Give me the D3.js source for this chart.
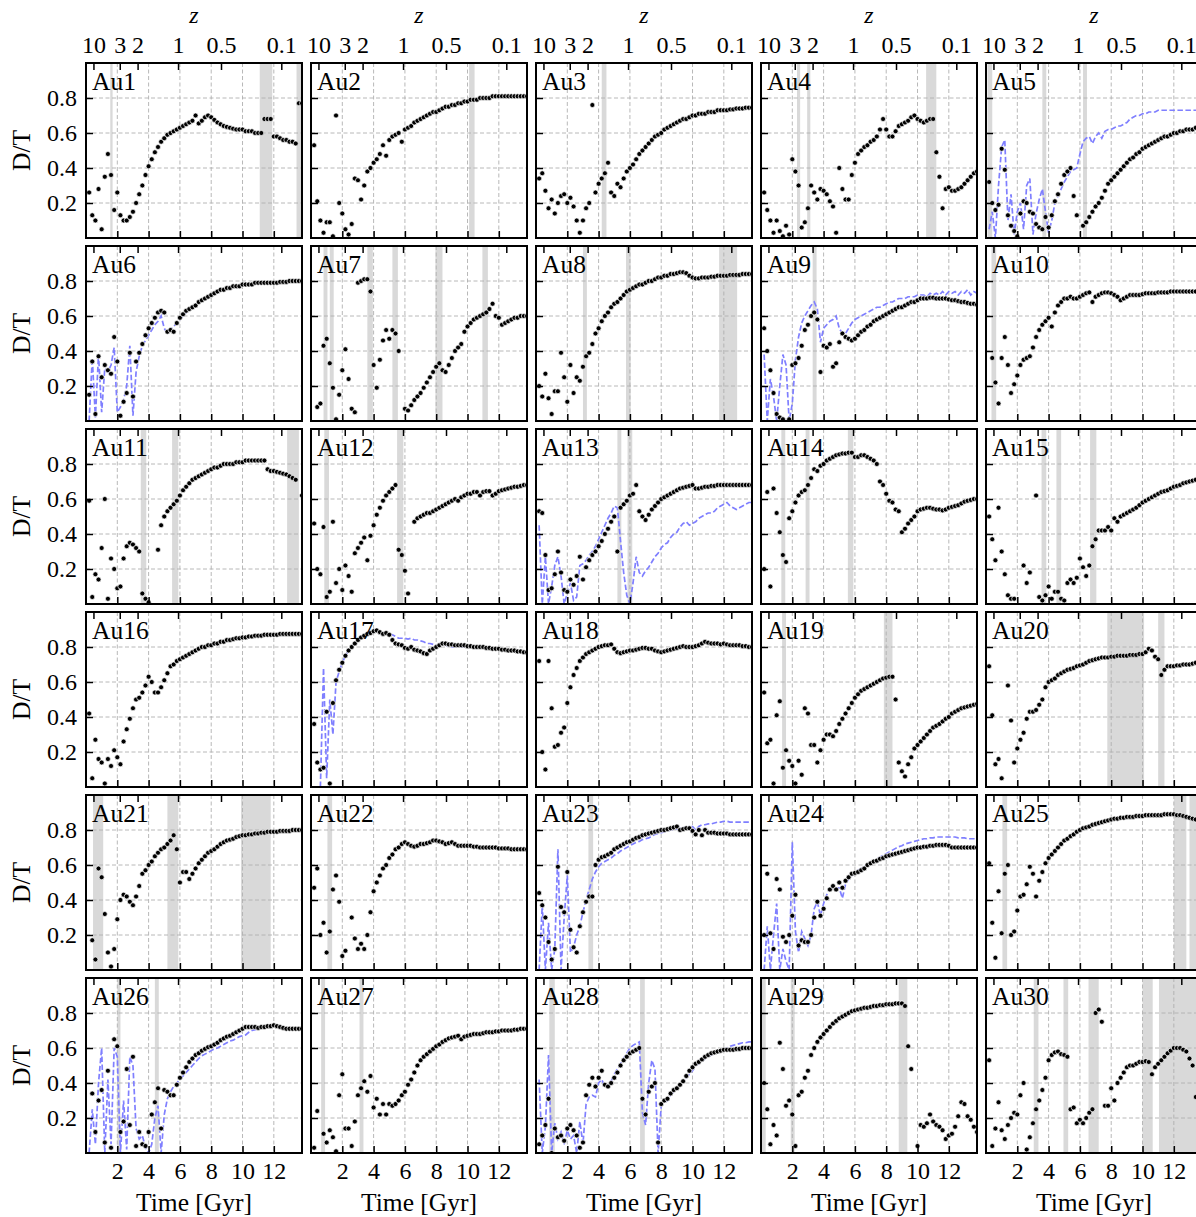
<!DOCTYPE html>
<html><head><meta charset="utf-8">
<script src="https://cdn.jsdelivr.net/npm/d3@7"></script>
<style>
body{margin:0;background:#fff;}
svg text{font-family:"Liberation Serif","DejaVu Serif",serif;fill:#000;}
</style>
</head><body>
<svg id="chart" width="1196" height="1217"></svg>
<script>
const n = null;
// snapshot times [Gyr]
const time = [0.2,0.4,0.6,0.8,1.0,1.2,1.4,1.6,1.8,2.0,2.2,2.4,2.6,2.8,3.0,3.2,3.4,3.6,3.8,4.0,4.2,4.4,4.6,4.8,5.0,5.2,5.4,5.6,5.8,6.0,6.2,6.4,6.6,6.8,7.0,7.2,7.4,7.6,7.8,8.0,8.2,8.4,8.6,8.8,9.0,9.2,9.4,9.6,9.8,10.0,10.2,10.4,10.6,10.8,11.0,11.2,11.4,11.6,11.8,12.0,12.2,12.4,12.6,12.8,13.0,13.2,13.4,13.6,13.8];
const names = ["Au1","Au2","Au3","Au4","Au5","Au6","Au7","Au8","Au9","Au10","Au11","Au12","Au13","Au14","Au15","Au16","Au17","Au18","Au19","Au20","Au21","Au22","Au23","Au24","Au25","Au26","Au27","Au28","Au29","Au30"];
const xTicks = [2,4,6,8,10,12];
const yTicks = [0.2,0.4,0.6,0.8];
const zTicks = [10,3,2,1,0.5,0.1];

// D/T (black points)
const au1 = [.26,.13,.10,.28,.05,.35,.48,.36,.16,.26, .13,.10,.10,.12,.15,.20,.25,.30,.36,.41, .45,.49,.52,.55,.57,.59,.60,.61,.62,.63, .64,.65,.66,.67,.70,.655,.67,.69,.70,.69, .675,.66,.65,.64,.635,.63,.625,.62,.62,.62, .61,.61,.61,.60,.60,.60,.68,.68,.68,.58, .58,.57,.56,.56,.55,.55,.54,.77,.77];
const au2 = [.53,.21,.10,.03,.09,.09,.01,.70,.20,.14, .05,.02,.08,.34,.33,.22,.30,.38,.40,.43, .45,.48,.53,.47,.56,.58,.59,.60,.55,.62, .63,.64,.66,.67,.68,.69,.70,.71,.72,.72, .73,.74,.75,.75,.76,.76,.77,.77,.78,.78, .79,.79,.79,.80,.80,.80,.80,.81,.81,.81, .81,.81,.81,.81,.81,.81,.81,.81,.81];
const au3 = [.34,.37,.27,.17,.22,.14,.20,.24,.25,.20, .23,.18,.10,.03,.10,.17,.20,.76,.26,.31, .34,.37,.43,.26,.24,.31,.29,.34,.38,.40, .42,.45,.48,.50,.52,.54,.56,.58,.59,.60, .62,.63,.64,.65,.66,.67,.68,.68,.69,.70, .70,.71,.71,.71,.72,.72,.72,.73,.73,.73, .73,.735,.735,.74,.74,.74,.745,.745,.745];
const au4 = [.26,.16,.10,.03,.10,.04,.01,.07,.02,.45, .38,.30,.06,.09,.17,.30,.26,.22,.28,.27, .25,.21,.18,.03,.40,.28,.22,.22,.36,.43, .48,.50,.52,.53,.55,.56,.58,.62,.68,.62, .58,.58,.61,.64,.65,.66,.67,.69,.70,.68, .67,.66,.67,.68,.68,.49,.35,.17,.28,.29, .27,.27,.28,.29,.31,.33,.35,.37,.38];
const au5 = [.32,.20,.16,.19,.51,.39,.13,.07,.04,.01, .14,.21,.20,.15,.14,.08,.06,.05,.12,.06, .13,.21,.25,.31,.36,.38,.40,.24,.13,n, .07,.09,.12,.15,.18,.20,.23,.27,.31,.33, .35,.37,.39,.41,.43,.45,.46,.48,.49,.51, .52,.53,.54,.55,.56,.57,.58,.58,.59,.60, .60,.61,.61,.62,.62,.62,.63,.63,.63];
const au6 = [.15,.34,.04,.37,.25,.32,.29,.27,.48,.34, .03,.11,.16,.39,.14,.34,.39,.44,.49,.53, .56,.59,.62,.63,.62,.51,.52,.51,.56,.59, .61,.63,.64,.65,.66,.68,.69,.70,.71,.72, .73,.74,.75,.75,.76,.76,.77,.77,.77,.78, .78,.78,.78,.79,.79,.79,.79,.79,.79,.79, .79,.795,.795,.795,.80,.80,.80,.80,.80];
const au7 = [n,.08,.10,.43,.47,.33,.19,.01,.15,.29, .41,.24,.07,.05,.79,.80,.81,.81,.74,.32, .19,.35,.46,.52,.47,.52,.50,.40,n,.07, .06,.09,.12,.14,.16,.19,.22,.25,.28,.31, .33,.29,.28,.32,.36,.40,.42,.44,.51,.54, .56,.58,.59,.60,.61,.62,.64,.67,.60,.59, .55,.56,.57,.58,.59,.59,.60,.60,.60];
const au8 = [.20,.14,.27,.13,.04,.17,.17,.39,.25,.11, .32,.16,.25,.23,.31,.37,.39,.44,.50,.53, .57,.60,.62,.65,.67,.68,.70,.72,.74,.75, .76,.77,.78,.78,.79,.80,.80,.81,.82,.82, .83,.83,.84,.84,.845,.85,.85,.845,.83,.82, .815,.815,.82,.82,.82,.825,.825,.83,.83,.83, .83,.835,.835,.835,.835,.84,.84,.84,.84];
const au9 = [.53,.40,.29,.16,.04,.02,.01,n,.01,.32, .33,.36,.43,.52,.55,.60,.62,.58,.28,.43, .42,.44,.31,.33,.45,.50,.48,.47,.46,.47, .49,.51,.52,.54,.55,.57,.58,.59,.60,.61, .62,.63,.64,.65,.65,.66,.67,.68,.68,.69, .70,.70,.70,.705,.705,.70,.70,.70,.70,.695, .69,.69,.685,.68,.68,.675,.67,.67,.665];
const au10 = [n,.36,.22,.10,.36,.48,.32,.16,.21,.26, .32,.35,.36,.37,.42,.48,.52,.55,.57,.59, .54,.62,.66,.68,.70,.70,.71,.70,.70,.71, .72,.73,.735,.68,.71,.72,.73,.735,.735,.73, .72,.71,.69,.70,.71,.72,.72,.72,.72,.725, .73,.73,.73,.73,.735,.735,.735,.735,.74,.74, .74,.74,.74,.74,.74,.74,.74,.74,.74];
const au11 = [.59,.04,.17,.14,.32,.60,.03,.26,.20,.09, .10,.26,.33,.35,.34,.32,.30,.06,.03,.01, n,n,.31,.45,.50,.53,.55,.57,.59,.62, .65,.67,.69,.71,.72,.73,.74,.75,.76,.77, .78,.78,.79,.80,.80,.80,.80,.81,.81,.81, .82,.82,.82,.82,.82,.82,.82,.77,.76,.76, .755,.75,.745,.74,.73,.72,.71,n,.62];
const au12 = [.46,.20,.17,.44,.04,.07,.47,.12,.20,.08, .22,.16,.07,.29,.32,.35,.38,.25,.39,.45, .51,.55,.59,.62,.64,.66,.68,.31,.28,.19, .06,n,.47,.49,.50,.51,.52,.52,.53,.54, .55,.56,.57,.58,.59,.60,.59,.61,.62,.63, .63,.64,.64,.62,.64,.645,.645,.62,.63,.645, .65,.655,.66,.665,.67,.67,.675,.68,.68];
const au13 = [.53,.52,.28,.08,.09,.17,.30,.18,.08,.07, .14,.11,.16,.27,.14,.21,.25,.28,.30,.33, .36,.40,.43,.47,.50,.30,.55,.57,.59,.62, .63,.68,.53,.50,.48,.51,.54,.56,.58,.60, .61,.62,.63,.64,.65,.66,.665,.67,.675,.68, .66,.66,.665,.67,.67,.675,.675,.68,.68,.68, .68,.68,.68,.68,.68,.68,.68,.68,.68];
const au14 = [.20,.64,.10,.66,.52,.41,.28,.24,.49,.53, .58,.62,.64,.65,.68,.72,.77,.76,.79,.80, .82,.83,.84,.85,.855,.86,.86,.865,.865,.84, .84,.85,.85,.84,.83,.82,.80,.70,.68,.63, .59,.58,.54,.53,.41,.43,.46,.48,.50,.53, .54,.545,.55,.55,.545,.54,.54,.535,.54,.55, .555,.56,.565,.575,.585,.59,.595,.60,.60];
const au15 = [.50,.37,.25,.55,.30,.17,.05,.03,.03,n, n,.22,.12,.18,n,.62,.04,.02,.05,.10, .03,.07,.07,.03,.02,.12,.14,.12,.15,.26, .21,.16,.22,.33,.37,.42,.42,.42,.44,.42, .49,.47,.50,.51,.52,.53,.54,.55,.565,.58, .59,.60,.61,.62,.63,.64,.645,.65,.66,.67, .675,.68,.69,.695,.70,.705,.71,.715,.72];
const au16 = [.42,.05,.27,.16,.14,.02,.16,.12,.21,.17, .13,.26,.33,.39,.45,.50,.51,.54,.58,.63, .60,.54,.54,.57,.61,.65,.69,.70,.72,.73, .74,.75,.76,.77,.78,.79,.80,.80,.81,.81, .82,.82,.83,.83,.84,.84,.845,.85,.85,.855, .855,.86,.86,.865,.865,.865,.87,.87,.87,.87, .87,.875,.875,.875,.875,.875,.875,.875,.875];
const au17 = [.36,.14,.10,.11,.43,.02,.48,.61,.67,.71, .75,.78,.80,.82,.84,.855,.865,.875,.88,.89, .895,.885,.875,.88,.87,.84,.82,.815,.81,.795, .79,.80,.785,.78,.775,.765,.76,.78,.79,.80, .81,.82,.82,.815,.815,.81,.81,.81,.81,.805, .805,.80,.80,.80,.80,.795,.795,.79,.79,.79, .785,.785,.78,.78,.78,.775,.775,.77,.77];
const au18 = [.72,.20,.10,.72,.45,.23,.24,.31,.34,.48, .57,.64,.68,.72,.74,.76,.77,.78,.79,.80, .805,.81,.81,.815,.79,.77,.765,.77,.775,.78, .78,.785,.79,.795,.795,.79,.79,.78,.775,.77, .775,.78,.785,.79,.795,.80,.805,.80,.80,.80, .805,.81,.82,.83,.825,.82,.82,.82,.815,.82, .815,.81,.81,.81,.81,.805,.805,.80,.80];
const au19 = [.54,.25,.27,.02,.41,.49,.11,.21,.15,.12, .02,.15,.07,.45,.42,.24,.24,.14,.21,.27, .30,.30,.29,.32,.36,.39,.42,.45,.48,.51, .53,.55,.56,.57,.58,.59,.60,.61,.62,.625, .63,.63,.50,.14,.09,.06,.13,.17,.22,.24, .26,.28,.30,.32,.34,.35,.36,.375,.39,.40, .42,.43,.44,.45,.455,.46,.465,.47,.475];
const au20 = [.69,.41,.13,.16,.05,n,.58,.38,.14,.22, .27,.31,.39,.43,.43,.44,.47,.50,.57,.60, .61,.62,.64,.65,.66,.67,.675,.68,.69,.695, .70,.71,.72,.725,.73,.735,.74,.74,.74,.745, .745,.75,.75,.75,.75,.755,.755,.755,.76,.76, .77,.79,.78,.745,.73,.64,.67,.69,.69,.69, .695,.695,.70,.70,.70,.705,.71,.71,.71];
const au21 = [n,.17,.06,.58,.53,.32,.10,.02,.12,.29, .40,.43,.42,.39,.37,.42,.48,.55,.57,.60, .62,.65,.67,.69,.70,.72,.74,.77,.69,.50, .56,.56,.52,.55,.58,.61,.63,.65,.67,.68, .69,.705,.72,.73,.74,.745,.75,.76,.765,.77, .77,.775,.775,.78,.78,.785,.785,.79,.79,.79, .79,.795,.795,.795,.795,.80,.80,.80,.80];
const au22 = [.47,.58,.20,.27,.10,.22,.46,.54,.39,.08, .11,n,.30,.18,.12,.15,.12,.20,.33,.45, .50,.54,.58,.60,.64,.66,.69,.70,.72,.73, .72,.71,.705,.71,.72,.72,.725,.73,.74,.74, .735,.73,.72,.725,.73,.72,.71,.71,.71,.71, .71,.705,.705,.70,.70,.70,.70,.70,.70,.695, .695,.695,.695,.69,.69,.69,.69,.69,.69];
const au23 = [.44,.37,.30,.16,.06,.12,.59,.36,.33,.56, .23,.13,.10,.25,.33,.39,.42,.42,.60,.63, .645,.65,.66,.67,.69,.70,.71,.72,.73,.735, .745,.755,.76,.77,.775,.78,.785,.79,.795,.80, .80,.805,.81,.815,.82,.80,.805,.81,.81,.795, .775,.80,.77,.80,.785,.785,.785,.78,.78,.78, .78,.775,.775,.775,.775,.775,.775,.775,.775];
const au24 = [.20,.55,.21,.12,.52,.46,.19,.16,.20,.31, .43,.14,.17,.16,.16,.20,.30,.39,.31,.35, .41,.46,.48,.46,.50,.47,.51,.53,.55,.555, .56,.57,.58,.60,.61,.62,.625,.635,.64,.65, .655,.66,.665,.67,.675,.68,.685,.69,.695,.70, .70,.705,.705,.71,.71,.715,.715,.715,.715,.71, .70,.70,.70,.70,.70,.70,.70,.70,.70];
const au25 = [.61,.27,.07,.45,.21,.55,.60,.20,.22,.34, .42,.43,.49,.59,.55,.42,.51,.56,.61,.64, .66,.68,.70,.72,.74,.75,.765,.775,.79,.80, .81,.815,.82,.83,.835,.84,.845,.85,.855,.86, .865,.865,.87,.87,.875,.875,.875,.88,.88,.88, .885,.885,.885,.885,.885,.885,.89,.89,.89,.89, .885,.885,.88,.875,.87,.865,.86,.855,.85];
const au26 = [n,.34,.12,.30,.36,.06,.47,.03,.65,.61, .12,.18,.48,.16,.55,.04,.12,.05,.04,.12, .22,.29,.37,.14,.36,.35,.33,.33,.39,.43, .46,.49,.52,.54,.56,.57,.585,.595,.605,.61, .62,.63,.645,.655,.665,.67,.68,.69,.70,.71, .72,.72,.72,.72,.715,.72,.72,.725,.725,.73, .725,.72,.715,.71,.71,.71,.71,.71,.71];
const au27 = [.03,.24,n,.11,.06,.13,.09,.01,.33,.45, .14,.14,.04,.18,.33,.37,.41,.35,.44,.26, .31,.22,.28,.22,.28,.27,.28,.30,.33,.35, .39,.42,.46,.50,.53,.55,.565,.58,.595,.61, .62,.635,.645,.655,.66,.665,.67,.65,.665,.67, .675,.68,.68,.68,.685,.69,.69,.69,.695,.695, .70,.70,.70,.70,.705,.705,.71,.71,.71];
const au28 = [.05,.10,.16,.31,0,.14,.09,.10,.07,.14, .16,.13,.10,.03,.06,.33,.39,.43,.38,.43, .47,.39,.38,.40,.43,.46,.50,.53,.55,.57, .58,.59,.60,.31,.22,.35,.38,.40,.06,.28, .30,.31,.34,.36,.37,.39,.41,.44,.47,.49, .51,.52,.535,.55,.56,.57,.575,.58,.585,.59, .59,.59,.59,.595,.595,.60,.60,.60,.60];
const au29 = [.40,.25,.05,.16,.10,.63,.48,.27,.30,.22, .04,.33,.35,.43,.47,.56,.60,.635,.66,.68, .70,.72,.74,.755,.77,.78,.79,.80,.81,.815, .82,.825,.83,.83,.835,.84,.84,.845,.845,.85, .85,.85,.855,.855,.855,.84,.61,.48,n,.04, .16,.15,.17,.22,.18,.16,.15,.13,.08,.10, .11,.15,.21,.29,.28,.21,.19,.15,.12];
const au30 = [.53,.04,.14,.29,.13,.08,.16,.20,.23,.22, .33,.40,.02,.09,.17,.25,.30,.36,.43,.53, .56,.575,.58,.565,.56,.55,.25,.26,.17,.19, .17,.20,.23,.25,.80,.82,.75,.27,.27,.37, .30,.40,.43,.46,.49,.50,.50,.51,.52,.52, .525,.52,.45,.49,.51,.53,.55,.57,.585,.60, .60,.60,.59,.58,.54,.50,.32,n,n];

// dashed blue series (where present)
const blue5 = [.05,.15,0,.30,.52,.56,.10,.25,.02,.15, .20,.05,.30,.34,.02,.14,.22,.28,.15,.03, .10,.20,.24,.28,.32,.35,.38,.39,.40,.48, .55,.57,.58,.54,.58,.60,.57,.61,.62,.62, .63,.64,.64,.65,.66,.68,.69,.70,.70,.71, .71,.72,.72,.72,.73,.73,.73,.73,.73,.73, .73,.73,.73,.73,.73,.73,.73,.73,.73];
const blue6 = [0,.36,.02,.38,.05,.30,.28,.32,.42,.05, .08,.12,.20,.43,.03,.28,.37,.43,.46,.49, .52,.55,.57,.60,.53,.50,.52,.54,.56,.58, .60,.62,n,n,n,n,n,n,n,n, n,n,n,n,n,n,n,n,n,n, n,n,n,n,n,n,n,n,n,n, n,n,n,n,n,n,n,n,n];
const blue9 = [.38,0,.24,.14,0,.20,.38,.32,0,.10, .35,.48,.56,.60,.63,.66,.68,.64,.45,.53, .55,.57,.58,.60,.53,.50,.50,.53,.56,.58, .59,.60,.61,.62,.63,.64,.65,.65,.66,.67, .68,.68,.69,.70,.70,.70,.71,.71,.71,.72, .72,.72,.71,.73,.72,.73,.72,.74,.72,.74, .73,.74,.72,.74,.73,.75,.72,.74,.73];
const blue13 = [.45,0,.27,0,.10,.22,.27,.16,0,.06, .12,.02,.04,.22,.23,.25,.28,.30,.33,.37, .41,.45,.49,.52,.56,.55,.36,.18,.05,0, .12,.27,.18,.16,.19,.21,.24,.27,.29,.32, .34,.35,.38,.40,.41,.44,.46,.47,.45,.46, .47,.49,.50,.51,.52,.52,.53,.55,.56,.57, .58,.56,.55,.54,.55,.56,.57,.58,.58];
const blue17 = [n,n,0,.68,.05,.50,.30,.60,.66,.71, .75,.78,.80,.82,.84,.855,.865,.875,.88,.89, .895,.89,.88,.885,.875,.87,.86,.85,.85,.85, .845,.85,.84,.84,.835,.83,.82,.82,.815,.81, .81,.81,.81,.805,.80,.80,.80,.80,.80,.80, .80,.80,.795,.795,.795,.79,.79,.79,.785,.785, .78,.78,.78,.775,.775,.77,.77,.765,.765];
const blue23 = [0,.37,0,.27,0,.12,.69,0,.30,.54, .10,.13,.20,.25,.33,.40,.46,.52,.56,.59, .61,.62,.63,.64,.655,.665,.68,.69,.70,.71, .72,.73,.735,.745,.75,.755,.765,.775,.78,.785, .79,.795,.80,.805,.805,.81,.815,.815,.82,.82, .80,.82,.83,.83,.835,.835,.84,.845,.845,.85, .85,.845,.845,.845,.845,.845,.845,.845,.845];
const blue24 = [0,.25,0,.20,.38,0,.12,.05,0,.73, .22,.10,.22,.18,.14,.20,.35,.39,.31,.38, .43,.46,.47,.47,.47,.41,.49,.52,.54,.555, .57,.58,.59,.60,.61,.625,.635,.645,.655,.665, .675,.685,.695,.705,.71,.72,.725,.73,.735,.74, .745,.75,.75,.755,.755,.76,.76,.76,.76,.76, .76,.76,.755,.755,.755,.75,.75,.75,.75];
const blue26 = [0,.25,.05,.40,.60,0,.42,.05,.60,.55, 0,.30,.02,.55,.50,.14,.08,.10,.03,0, .05,.20,.27,0,.22,.31,.35,.38,.40,.42, .44,.46,.48,.50,.52,.54,.555,.565,.575,.585, .595,.60,.61,.62,.63,.64,.645,.655,.665,.67, .675,.69,.70,.705,.71,n,n,n,n,n, n,n,n,n,n,n,n,n,n];
const blue28 = [.42,0,.15,.56,0,.17,.08,.12,.05,.13, .08,.10,0,.18,.05,.28,.32,.33,.32,.40, .42,.38,.38,.41,.45,.48,.51,.54,.57,.60, .615,.625,.635,.23,.16,.40,.53,.48,0,.27, .29,.30,.33,.35,.37,.39,.41,.43,.45,.47, .50,.51,.525,.54,.55,.56,.57,.58,.59,.595, .60,.61,.615,.62,.625,.63,.63,.635,.635];

// grey bands [start, end] in Gyr, one list per halo
const bandList = [
 [[1.55,1.7],[11.1,11.9],[13.45,13.8]],
 [[10.1,10.45]],
 [[4.2,4.5]],
 [[2.3,2.5],[2.95,3.15],[10.55,11.2]],
 [[0.1,0.4],[3.6,3.85],[6.2,6.45]],
 [],
 [[0.8,1.05],[1.2,1.45],[3.6,3.95],[5.2,5.55],[7.95,8.4],[10.95,11.3]],
 [[3.0,3.25],[5.75,6.05],[11.7,12.85]],
 [[3.3,3.55]],
 [[0.35,0.65]],
 [[3.5,3.85],[5.5,5.9],[12.85,13.6]],
 [[0.85,1.15],[5.5,5.9]],
 [[5.2,5.45],[5.85,6.15]],
 [[1.3,1.55],[2.85,3.1],[5.55,5.9]],
 [[3.55,3.85],[4.5,4.8],[6.65,7.05]],
 [],
 [],
 [],
 [[1.35,1.6],[7.85,8.4]],
 [[7.75,10.1],[11.0,11.4]],
 [[0.45,1.1],[5.2,5.9],[9.9,11.8]],
 [[1.05,1.35]],
 [[3.35,3.65]],
 [],
 [[1.05,1.35],[12.0,12.8],[13.0,13.8]],
 [[2.0,2.2],[4.4,4.65]],
 [[0.65,0.9],[3.1,3.35]],
 [[0.85,1.2],[6.65,6.95]],
 [[0.05,0.3],[1.9,2.15],[8.8,9.35]],
 [[3.05,3.35],[4.95,5.25],[6.55,7.2],[10.0,10.65],[11.05,13.8]]
];

const points = [au1,au2,au3,au4,au5,au6,au7,au8,au9,au10,au11,au12,au13,au14,au15,au16,au17,au18,au19,au20,au21,au22,au23,au24,au25,au26,au27,au28,au29,au30];
const dashed = {4:blue5,5:blue6,8:blue9,12:blue13,16:blue17,22:blue23,23:blue24,25:blue26,27:blue28};

// ---------- drawing ----------
const W = 216, H = 175;
const colX = [86,311,536,761,986];
const rowY = [63,246,429,612,795,978];
const FS = 24, FL = 25.5;

const x = d3.scaleLinear().domain([0,13.8]).range([0,W]);
const y = d3.scaleLinear().domain([0,1]).range([H,0]);

// cosmic time at redshift z (flat LCDM, Planck-like)
function tOfZ(z){
  const H0 = 67.77, Om = 0.307, OL = 1-Om, tH = 977.8/H0;
  return 2/(3*Math.sqrt(OL))*tH*Math.asinh(Math.sqrt(OL/Om)*Math.pow(1+z,-1.5));
}

const svg = d3.select("#chart");
svg.append("rect").attr("width",1196).attr("height",1217).attr("fill","#fff");
svg.append("defs").append("clipPath").attr("id","pclip")
  .append("rect").attr("x",0).attr("y",0).attr("width",W).attr("height",H);

const line = d3.line()
  .defined(d => d[1] != null)
  .x(d => x(d[0])).y(d => y(d[1]));

points.forEach((vals, i) => {
  const col = i % 5, row = Math.floor(i/5);
  const g = svg.append("g").attr("transform", `translate(${colX[col]},${rowY[row]})`);
  const inner = g.append("g").attr("clip-path","url(#pclip)");

  // bands
  inner.selectAll("rect.band").data(bandList[i]).join("rect")
    .attr("class","band")
    .attr("x", d => x(d[0])).attr("width", d => x(d[1]) - x(d[0]))
    .attr("y", 0).attr("height", H).attr("fill", "#d9d9d9");

  // grid
  inner.selectAll("line.gx").data(xTicks).join("line")
    .attr("x1", d => x(d)).attr("x2", d => x(d)).attr("y1", 0).attr("y2", H)
    .attr("stroke","#b0b0b0").attr("stroke-width",0.9).attr("stroke-dasharray","4,2.5");
  inner.selectAll("line.gy").data(yTicks).join("line")
    .attr("y1", d => y(d)).attr("y2", d => y(d)).attr("x1", 0).attr("x2", W)
    .attr("stroke","#b0b0b0").attr("stroke-width",0.9).attr("stroke-dasharray","4,2.5");

  // dashed series
  if (dashed[i]) {
    const pts = time.map((t,j) => [t, dashed[i][j]]);
    inner.append("path").datum(pts).attr("d", line)
      .attr("fill","none").attr("stroke","#7f7fff").attr("stroke-width",1.7)
      .attr("stroke-dasharray","5.5,2.5");
  }

  // points
  const pts = time.map((t,j) => [t, vals[j]]).filter(d => d[1] != null);
  inner.selectAll("circle").data(pts).join("circle")
    .attr("cx", d => x(d[0])).attr("cy", d => y(d[1])).attr("r", 2.5)
    .attr("fill","#000").attr("stroke","#fff").attr("stroke-width",0.7);

  // halo label
  g.append("text").attr("x",6).attr("y",27).attr("font-size",FL).text(names[i]);

  // axes (inward ticks)
  const bottom = d3.axisBottom(x).tickValues(xTicks).tickSizeInner(-7).tickSizeOuter(0).tickPadding(9)
    .tickFormat(row === 5 ? d3.format("d") : () => "");
  const left = d3.axisLeft(y).tickValues(yTicks).tickSizeInner(-7).tickSizeOuter(0).tickPadding(9)
    .tickFormat(col === 0 ? d3.format(".1f") : () => "");
  const top = d3.axisTop(x).tickValues(zTicks.map(tOfZ)).tickSizeInner(-7).tickSizeOuter(0).tickPadding(10)
    .tickFormat(row === 0 ? ((d,k) => String(zTicks[k])) : () => "");

  const ab = g.append("g").attr("transform",`translate(0,${H})`).call(bottom);
  const al = g.append("g").call(left);
  const at = g.append("g").call(top);
  [ab,al,at].forEach(a => {
    a.select(".domain").remove();
    a.selectAll(".tick line").attr("stroke","#000").attr("stroke-width",1.5);
    a.selectAll(".tick text").attr("font-size",FS).attr("font-family",'"Liberation Serif",serif').attr("fill","#000");
  });

  // frame
  g.append("rect").attr("x",0).attr("y",0).attr("width",W).attr("height",H)
    .attr("fill","none").attr("stroke","#000").attr("stroke-width",2);

  if (row === 0) {
    g.append("text").attr("x", W/2).attr("y", -40).attr("text-anchor","middle")
      .attr("font-size",FS).attr("font-style","italic").text("z");
  }
  if (row === 5) {
    g.append("text").attr("x", W/2).attr("y", H + 58).attr("text-anchor","middle")
      .attr("font-size",FL).text("Time [Gyr]");
  }
  if (col === 0) {
    g.append("text").attr("transform",`translate(${-56},${H/2}) rotate(-90)`)
      .attr("text-anchor","middle").attr("font-size",FL).text("D/T");
  }
});
</script>
</body></html>
